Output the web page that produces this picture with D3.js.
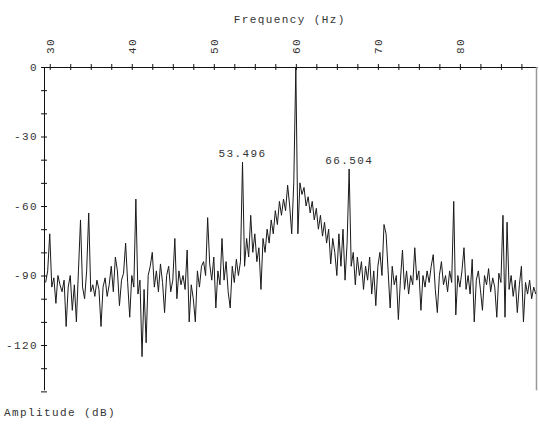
<!DOCTYPE html>
<html>
<head>
<meta charset="utf-8">
<script src="https://cdn.jsdelivr.net/npm/d3@7"></script>
<style>
  body { margin: 0; background: #fff; }
  text { font-family: "Liberation Mono", "DejaVu Sans Mono", monospace; font-size: 11px; fill: #333; letter-spacing: 1.4px; }
  .axis path, .axis line { stroke: #111; }
</style>
</head>
<body>
<script>
 ///////////////////////////////////////////////////////
 // data

 var freqStart = 29.5; // first sample (Hz)
 var freqStep = 0.25;  // spacing of samples (Hz)
 var amplitude = [ // dB
   -93, -88, -72, -95, -91, -102, -90, -94, -97, -92,   // 29.5 - 31.75
   -112, -95, -90, -105, -94, -110, -88, -66, -95, -100, // 32.0 - 34.25
   -88, -63, -97, -94, -99, -92, -96, -112, -95, -91,   // 34.5 - 36.75
   -99, -94, -86, -97, -82, -88, -103, -92, -89, -76,   // 37.0 - 39.25
   -93, -108, -90, -95, -57, -98, -92, -125, -96, -119, // 39.5 - 41.75
   -90, -86, -80, -95, -88, -97, -85, -93, -106, -90,   // 42.0 - 44.25
   -86, -97, -92, -74, -100, -88, -94, -90, -96, -79,   // 44.5 - 46.75
   -110, -94, -100, -110, -88, -95, -86, -84, -90, -65, // 47.0 - 49.25
   -85, -92, -82, -104, -88, -94, -74, -92, -84, -97,   // 49.5 - 51.75
   -104, -86, -93, -83, -90, -84, -41, -86, -74, -82,   // 52.0 - 54.25
   -64, -80, -72, -84, -78, -96, -74, -80, -70, -76,    // 54.5 - 56.75
   -66, -72, -62, -68, -58, -64, -57, -62, -51, -60,    // 57.0 - 59.25
   -72, -50, 0, -72, -50, -55, -52, -60, -56, -63,      // 59.5 - 61.75
   -58, -66, -61, -70, -64, -73, -67, -76, -70, -85,    // 62.0 - 64.25
   -74, -80, -90, -72, -86, -70, -92, -76, -44, -86,    // 64.5 - 66.75
   -80, -94, -82, -90, -84, -96, -86, -92, -82, -98,    // 67.0 - 69.25
   -88, -103, -86, -80, -90, -68, -72, -88, -104, -86,  // 69.5 - 71.75
   -94, -90, -109, -92, -79, -96, -88, -98, -90, -94,   // 72.0 - 74.25
   -78, -92, -88, -105, -90, -95, -88, -93, -86, -81,   // 74.5 - 76.75
   -96, -106, -90, -84, -94, -90, -97, -88, -93, -58,   // 77.0 - 79.25
   -107, -90, -95, -88, -78, -96, -90, -98, -83, -110,  // 79.5 - 81.75
   -92, -88, -96, -105, -90, -94, -87, -97, -91, -95,   // 82.0 - 84.25
   -108, -89, -93, -64, -108, -67, -96, -90, -99, -92,  // 84.5 - 86.75
   -106, -94, -86, -110, -93, -98, -92, -100, -95, -98  // 87.0 - 89.25
 ];
 var peakFreqs = [53.496, 66.504]; // labelled sidebands
 var peakDb = [-41, -44];
 var xTickMajor = [30, 40, 50, 60, 70, 80];
 var yTickMajor = [0, -30, -60, -90, -120];

 ///////////////////////////////////////////////////////
 // margins

 var w = 539;
 var h = 425;
 var svg = d3.select("body").append("svg")
   .attr("width", w)
   .attr("height", h),
   margin = { top: 67, left: 44, right: 2, bottom: 34 },
   width = w - margin.left - margin.right,
   height = h - margin.top - margin.bottom;

 ///////////////////////////////////////////////////////
 // scales

 var x = d3.scaleLinear()
   .domain([29.3, 89.4])
   .range([0, width]);
 var y = d3.scaleLinear()
   .domain([0, -140])
   .range([0, 140 * 2.317]);

 var xMinor = d3.range(30, 89, 2.5);
 var yMinor = d3.range(0, -141, -10);

 var chart = svg.append("g")
   .attr("transform", "translate(" + margin.left + "," + margin.top + ")");

 ///////////////////////////////////////////////////////
 // axes

 // top axis: line plus ticks crossing it
 var xAxis = d3.axisTop(x)
   .tickValues(xMinor)
   .tickSize(3)
   .tickSizeOuter(0)
   .tickFormat("");
 var gx = chart.append("g").classed("axis x", true).call(xAxis);
 gx.selectAll(".tick line").attr("y2", -3).attr("y1", 3);

 gx.selectAll(".major")
   .data(xTickMajor)
   .enter().append("text")
   .attr("transform", function(d) { return "translate(" + x(d) + ",-21) rotate(-90)"; })
   .attr("text-anchor", "middle")
   .attr("dy", "0.35em")
   .text(function(d) { return d; });

 var yAxis = d3.axisLeft(y)
   .tickValues(yMinor)
   .tickSize(3)
   .tickSizeOuter(0)
   .tickFormat("");
 var gy = chart.append("g").classed("axis y", true).call(yAxis);
 gy.select(".domain").attr("d", "M0.5,0V" + y(-139.5));
 gy.selectAll(".tick line").attr("x1", 3).attr("x2", -3);

 gy.selectAll(".major")
   .data(yTickMajor)
   .enter().append("text")
   .attr("x", -6)
   .attr("y", function(d) { return y(d); })
   .attr("dy", "0.35em")
   .attr("text-anchor", "end")
   .text(function(d) { return d; });

 // right border
 chart.append("line")
   .attr("x1", width - 0.5).attr("x2", width - 0.5)
   .attr("y1", 0).attr("y2", y(-139.5))
   .style("stroke", "#999")
   .style("stroke-width", 1.5);

 // titles
 svg.append("text")
   .attr("x", margin.left + x(60) - 6)
   .attr("y", 23)
   .attr("text-anchor", "middle")
   .text("Frequency (Hz)");
 svg.append("text")
   .attr("x", 4)
   .attr("y", 416)
   .text("Amplitude (dB)");

 ///////////////////////////////////////////////////////
 // plot

 var spectrum = amplitude.map(function(d, i) {
   return { f: freqStart + i * freqStep, db: d };
 });

 chart.append("clipPath").attr("id", "clip")
   .append("rect").attr("width", width).attr("height", y(-140));

 chart.append("path")
   .datum(spectrum)
   .attr("clip-path", "url(#clip)")
   .attr("fill", "none")
   .attr("stroke", "#1a1a1a")
   .attr("stroke-width", 1)
   .attr("d", d3.line()
     .x(function(d) { return x(d.f); })
     .y(function(d) { return y(d.db); }));

 chart.selectAll(".peak")
   .data(peakFreqs)
   .enter().append("text")
   .classed("peak", true)
   .attr("x", function(d) { return x(d); })
   .attr("y", function(d, i) { return y(peakDb[i]) - 5; })
   .attr("text-anchor", "middle")
   .text(function(d) { return d.toFixed(3); });
</script>
</body>
</html>
